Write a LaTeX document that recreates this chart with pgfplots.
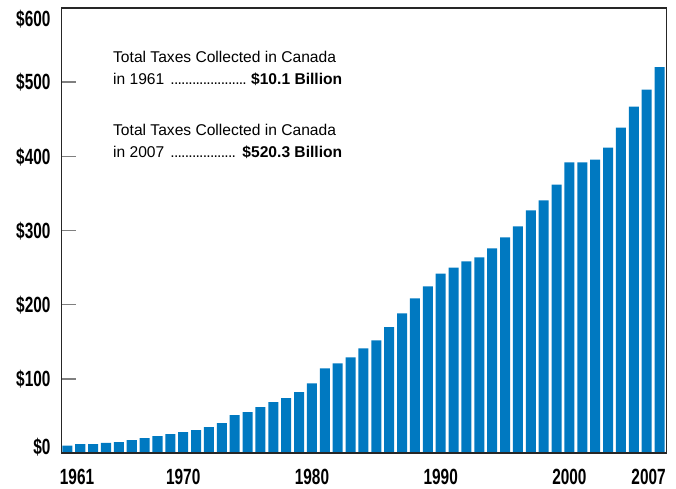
\documentclass[border=0pt]{standalone}
\usepackage{pgfplots}
\pgfplotsset{compat=1.18}
\usepackage{pgfplotstable}
\usepackage{fontspec}
\setmainfont{Liberation Sans}
\newfontfamily\condfont[FakeStretch=0.7]{Liberation Sans}
\definecolor{barblue}{HTML}{0079C1}
\definecolor{tickgray}{HTML}{7F7F7F}

\pgfplotstableread{
x y
0 10.1
1 12
2 12
3 13.5
4 14.8
5 17.5
6 20
7 22.9
8 25.6
9 28.3
10 31
11 35
12 40.4
13 51
14 55
15 62
16 68.6
17 74
18 82
19 94
20 114
21 121
22 129
23 141
24 152
25 169.6
26 188.4
27 208.6
28 224.8
29 242
30 250
31 258.4
32 263.8
33 276
34 290.7
35 305.5
36 327
37 340.5
38 362
39 391.7
40 391.7
41 395.7
42 411.8
43 438.8
44 467
45 490
46 520.3
}\taxdata

\newcommand\dotsfill{\leaders\hbox to 3.6bp{\hss.\hss}\hfill}

\begin{document}
\begin{tikzpicture}
\begin{axis}[
  scale only axis, width=604.8bp, height=445bp,
  xmin=-0.44, xmax=46.54, ymin=0, ymax=600,
  axis on top,
  axis line style={draw=black!85, line width=1.4bp},
  xtick={0.75,9,19,29,39,45.15},
  xticklabels={1961,1970,1980,1990,2000,2007},
  xtick style={draw=none},
  ytick={0,100,...,600},
  yticklabels={\raisebox{6bp}{\$0},\$100,\$200,\$300,\$400,\$500,\raisebox{-11bp}{\$600}},
  ytick pos=left, tick align=inside,
  major tick length=14bp,
  ytick style={draw=tickgray, line width=1.4bp},
  tick label style={font=\condfont\bfseries\fontsize{22bp}{22bp}\selectfont, inner sep=0pt},
  yticklabel style={anchor=base east, xshift=-11bp, yshift=-7.8bp},
  xticklabel style={anchor=base, yshift=-31bp},
]
\addplot[ybar, bar width=0.78, fill=barblue, draw=none] table[x=x,y=y]{\taxdata};
\node[anchor=base west, inner sep=0pt, font=\fontsize{15.6bp}{18bp}\selectfont] at (rel axis cs:0.0848,0.877) {Total Taxes Collected in Canada};
\node[anchor=base west, inner sep=0pt, font=\fontsize{15.6bp}{18bp}\selectfont] at (rel axis cs:0.0848,0.827) {\makebox[229bp][s]{in 1961 \dotsfill\ \textbf{\$10.1 Billion}}};
\node[anchor=base west, inner sep=0pt, font=\fontsize{15.6bp}{18bp}\selectfont] at (rel axis cs:0.0848,0.713) {Total Taxes Collected in Canada};
\node[anchor=base west, inner sep=0pt, font=\fontsize{15.6bp}{18bp}\selectfont] at (rel axis cs:0.0848,0.663) {\makebox[229bp][s]{in 2007 \dotsfill\ \textbf{\$520.3 Billion}}};
\end{axis}
\path ([xshift=-61.7bp,yshift=-36bp]current axis.south west) rectangle ([xshift=9.5bp,yshift=8bp]current axis.north east);
\end{tikzpicture}
\end{document}
